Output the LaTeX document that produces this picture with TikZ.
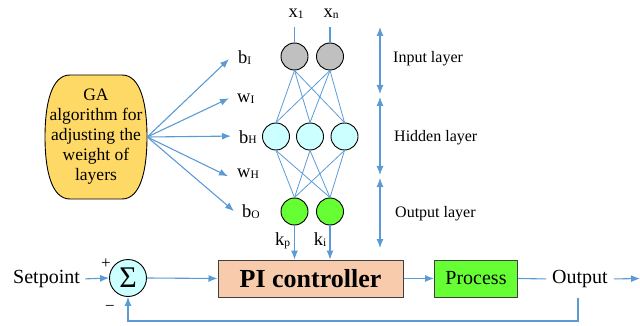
\documentclass[tikz,border=0pt]{standalone}
\usepackage{fontspec}
\setmainfont{Liberation Serif}
\usetikzlibrary{arrows.meta}

\definecolor{linkblue}{HTML}{5B9BD5}
\definecolor{gagold}{HTML}{FFD966}
\definecolor{inputgray}{HTML}{C0C0C0}
\definecolor{hidcyan}{HTML}{CCFFFF}
\definecolor{outgreen}{HTML}{66FF33}
\definecolor{pipeach}{HTML}{F8CBAD}
\definecolor{boxedge}{HTML}{404040}

% small lowered index letter used in the labels
\newcommand\lsub[1]{\raisebox{-1pt}{\fontsize{11.5}{11.5}\selectfont #1}}

\tikzset{
  link/.style={draw=linkblue, line width=1.1pt},
  arrow/.style={link, -{Latex[length=9pt,width=7pt]}},
  dblarrow/.style={link, {Latex[length=9pt,width=7pt]}-{Latex[length=9pt,width=7pt]}},
  neuron/.style={circle, draw=black, line width=0.9pt, minimum size=27pt, inner sep=0pt},
  param/.style={font=\fontsize{18.5}{18.5}\selectfont, anchor=base west, inner sep=1pt},
  layertxt/.style={font=\fontsize{16}{16}\selectfont, anchor=base west, inner sep=0pt},
  bigtxt/.style={font=\fontsize{20}{20}\selectfont},
}

\begin{document}
\begin{tikzpicture}[x=1pt,y=-1pt]
\useasboundingbox (0,0) rectangle (640,326);

% ---- GA block (barrel shaped) ----
\filldraw[fill=gagold, draw=black, line width=0.9pt]
  (70,75) -- (122,75) .. controls (141,75) and (147,105) .. (147,137)
  .. controls (147,169) and (141,199) .. (122,199) -- (70,199)
  .. controls (51,199) and (45,169) .. (45,137)
  .. controls (45,105) and (51,75) .. (70,75) -- cycle;
\node[align=center, font=\fontsize{17.5}{20}\selectfont, inner sep=0pt,
      minimum width=102pt, minimum height=124pt] (ga) at (96,137)
  {GA\\algorithm for\\adjusting the\\weight of\\layers};

% ---- parameter labels ----
\node[param] (bI) at (237,64) {b\lsub{I}};
\node[param] (wI) at (236,103) {w\lsub{I}};
\node[param] (bH) at (238,143) {b\lsub{H}};
\node[param] (wH) at (236,178) {w\lsub{H}};
\node[param] (bO) at (241,217) {b\lsub{O}};

\draw[arrow] (ga.east) -- ([xshift=-8pt,yshift=-1pt]bI.west);
\draw[arrow] (ga.east) -- ([xshift=-7pt,yshift=1pt]wI.west);
\draw[arrow] (ga.east) -- ([xshift=-7pt,yshift=1pt]bH.west);
\draw[arrow] (ga.east) -- ([xshift=-8pt,yshift=-2pt]wH.west);
\draw[arrow] (ga.east) -- ([xshift=-7pt]bO.west);

% ---- neural network ----
\node[neuron, fill=inputgray] (i1) at (294.5,56.5) {};
\node[neuron, fill=inputgray] (i2) at (330,56.5) {};
\node[neuron, fill=hidcyan] (h1) at (276,136.5) {};
\node[neuron, fill=hidcyan] (h2) at (310,136.5) {};
\node[neuron, fill=hidcyan] (h3) at (344.5,136.5) {};
\node[neuron, fill=outgreen] (o1) at (294.5,211.5) {};
\node[neuron, fill=outgreen] (o2) at (330,211.5) {};

\foreach \a in {i1,i2}
  \foreach \b in {h1,h2,h3}
    \draw[link, line width=0.8pt] (\a.south) -- (\b.north);
\foreach \a in {h1,h2,h3}
  \foreach \b in {o1,o2}
    \draw[link, line width=0.8pt] (\a.south) -- (\b.north);

\node[param, anchor=base] (x1) at (296,18) {x\lsub{1}};
\node[param, anchor=base] (xn) at (331,18) {x\lsub{n}};
\draw[link] (x1.south -| i1) ++(0,7) -- (i1.north);
\draw[link] (xn.south -| i2) ++(0,7) -- (i2.north);

% ---- layer extents ----
\coordinate (l1) at (380,27);
\coordinate (l2) at (380,94);
\coordinate (l3) at (380,97);
\coordinate (l4) at (380,175);
\coordinate (l5) at (380,178);
\coordinate (l6) at (380,248);
\draw[dblarrow] (l1) -- (l2);
\draw[dblarrow] (l3) -- (l4);
\draw[dblarrow] (l5) -- (l6);
\node[layertxt] (lin) at (393,63) {Input layer};
\node[layertxt] (lhid) at (394,142) {Hidden layer};
\node[layertxt] (lout) at (395,217) {Output layer};

% ---- control loop ----
\node[bigtxt, anchor=west, inner sep=2pt] (sp) at (11,279) {Setpoint};
\node[circle, draw=black, line width=0.9pt, fill=hidcyan, minimum size=37pt,
      inner sep=0pt, font=\fontsize{30}{30}\selectfont] (sum) at (128,278) {Σ};
\node[font=\fontsize{17}{17}\selectfont, inner sep=0pt] (plus) at (106,264) {+};
\node[font=\fontsize{17}{17}\selectfont, inner sep=0pt] (minus) at (110,308) {−};

\node[draw=boxedge, line width=1pt, fill=pipeach, minimum width=185pt,
      minimum height=37pt, inner sep=0pt,
      font=\bfseries\fontsize{26}{26}\selectfont] (pi) at (310.5,278.5) {PI controller};
\node[draw=boxedge, line width=1pt, fill=outgreen, minimum width=83pt,
      minimum height=37pt, inner sep=0pt, bigtxt] (proc) at (476,278.5) {Process};
\node[bigtxt, inner sep=3pt] (out) at (580,279) {Output};
\coordinate (end) at (640,278.5);
\coordinate (fb) at (578,321);

\draw[arrow] (o1.south) -- (o1.south |- pi.north);
\draw[arrow] (o2.south) -- (o2.south |- pi.north);
\node[param, anchor=base] (kp) at (282.5,245) {k\lsub{p}};
\node[param, anchor=base] (ki) at (320,245) {k\lsub{i}};

\draw[arrow, shorten <=3pt] (sp.east) -- (sum.west);
\draw[arrow] (sum.east) -- (pi.west);
\draw[arrow] (pi.east) -- (proc.west);
\draw[link, shorten >=3pt] (proc.east) -- (out.west);
\draw[arrow, shorten <=3pt] (out.east) -- (end);
\draw[arrow] (fb |- proc.south) -- (fb) -| (sum.south);
\end{tikzpicture}
\end{document}
